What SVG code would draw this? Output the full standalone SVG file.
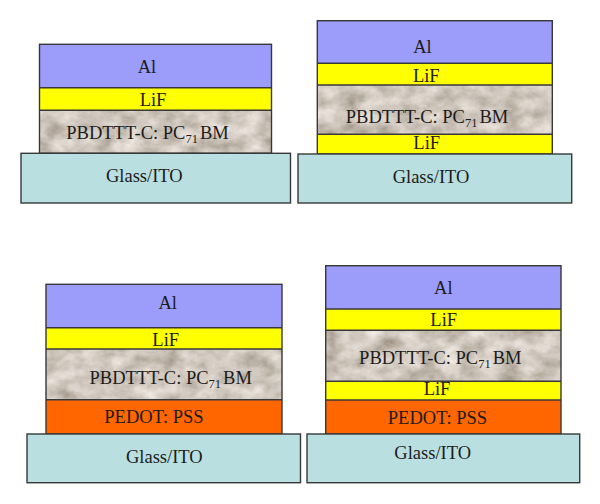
<svg xmlns="http://www.w3.org/2000/svg" width="600" height="504" viewBox="0 0 600 504">
<style>
.lay{stroke:#383838;stroke-width:1.4}
.al{fill:#9c9cfb}
.lif{fill:#ffff00}
.ped{fill:#ff6600}
.gl{fill:#b9dfe1}
.frame{fill:none;stroke:#383838;stroke-width:1.4}
text{font-family:"Liberation Serif","Times New Roman",serif;font-size:18.5px;fill:#1c1c1c;text-anchor:middle}
.sub{font-size:12.5px}
</style>
<defs>
<filter id="marble" x="0" y="0" width="1" height="1">
<feTurbulence type="fractalNoise" baseFrequency="0.05 0.065" numOctaves="4" seed="11" result="n"/>
<feColorMatrix in="n" type="matrix" values="0.65 0 0 0 0.305  0.65 0 0 0 0.25  0.65 0 0 0 0.19  0 0 0 0 1" result="c"/>
<feComposite in="c" in2="SourceGraphic" operator="in"/>
</filter>
</defs>
<rect width="600" height="504" fill="#ffffff"/>

<g id="device1">
<rect class="al" x="39.5" y="44.3" width="232" height="43.4"/>
<rect class="lif" x="39.5" y="87.7" width="232" height="22.6"/>
<rect x="39.5" y="110.3" width="232" height="43" fill="#a89b8e" filter="url(#marble)"/>
<rect class="frame" x="39.5" y="44.3" width="232" height="109"/>
<line class="lay" x1="39.5" y1="87.7" x2="271.5" y2="87.7"/>
<line class="lay" x1="39.5" y1="110.3" x2="271.5" y2="110.3"/>
<rect class="gl lay" x="21" y="153.3" width="269.5" height="49.7"/>
<text x="147" y="73.3">Al</text>
<text x="153" y="106">LiF</text>
<text x="147.5" y="139">PBDTTT-C: PC<tspan class="sub" dy="4">71</tspan><tspan dy="-4" dx="2">BM</tspan></text>
<text x="144.3" y="182.3">Glass/ITO</text>
</g>

<g id="device2">
<rect class="al" x="317.3" y="20.7" width="235" height="42.6"/>
<rect class="lif" x="317.3" y="63.3" width="235" height="21.7"/>
<rect x="317.3" y="85" width="235" height="49.3" fill="#a89b8e" filter="url(#marble)"/>
<rect class="lif" x="317.3" y="134.3" width="235" height="19.7"/>
<rect class="frame" x="317.3" y="20.7" width="235" height="133.3"/>
<line class="lay" x1="317.3" y1="63.3" x2="552.3" y2="63.3"/>
<line class="lay" x1="317.3" y1="85" x2="552.3" y2="85"/>
<line class="lay" x1="317.3" y1="134.3" x2="552.3" y2="134.3"/>
<rect class="gl lay" x="298" y="154" width="273.7" height="49"/>
<text x="422.5" y="52.7">Al</text>
<text x="426.3" y="82">LiF</text>
<text x="427" y="122.7">PBDTTT-C: PC<tspan class="sub" dy="4">71</tspan><tspan dy="-4" dx="2">BM</tspan></text>
<text x="426.7" y="149.3">LiF</text>
<text x="431" y="183.3">Glass/ITO</text>
</g>

<g id="device3">
<rect class="al" x="46" y="284.3" width="236" height="43.4"/>
<rect class="lif" x="46" y="327.7" width="236" height="21.3"/>
<rect x="46" y="349" width="236" height="50.7" fill="#a89b8e" filter="url(#marble)"/>
<rect class="ped" x="46" y="399.7" width="236" height="34.3"/>
<rect class="frame" x="46" y="284.3" width="236" height="149.7"/>
<line class="lay" x1="46" y1="327.7" x2="282" y2="327.7"/>
<line class="lay" x1="46" y1="349" x2="282" y2="349"/>
<line class="lay" x1="46" y1="399.7" x2="282" y2="399.7"/>
<rect class="gl lay" x="27" y="434" width="273.5" height="48.7"/>
<text x="167.7" y="309.3">Al</text>
<text x="165.7" y="346">LiF</text>
<text x="170.7" y="384.3">PBDTTT-C: PC<tspan class="sub" dy="4">71</tspan><tspan dy="-4" dx="2">BM</tspan></text>
<text x="154" y="422.7">PEDOT: PSS</text>
<text x="164.3" y="462.7">Glass/ITO</text>
</g>

<g id="device4">
<rect class="al" x="325.7" y="265.7" width="235.3" height="43.3"/>
<rect class="lif" x="325.7" y="309" width="235.3" height="21.3"/>
<rect x="325.7" y="330.3" width="235.3" height="51" fill="#a89b8e" filter="url(#marble)"/>
<rect class="lif" x="325.7" y="381.3" width="235.3" height="18.7"/>
<rect class="ped" x="325.7" y="400" width="235.3" height="34"/>
<rect class="frame" x="325.7" y="265.7" width="235.3" height="168.3"/>
<line class="lay" x1="325.7" y1="309" x2="561" y2="309"/>
<line class="lay" x1="325.7" y1="330.3" x2="561" y2="330.3"/>
<line class="lay" x1="325.7" y1="381.3" x2="561" y2="381.3"/>
<line class="lay" x1="325.7" y1="400" x2="561" y2="400"/>
<rect class="gl lay" x="307" y="434" width="272.7" height="48.7"/>
<text x="443.3" y="294.3">Al</text>
<text x="443.7" y="325.7">LiF</text>
<text x="440.3" y="364">PBDTTT-C: PC<tspan class="sub" dy="4">71</tspan><tspan dy="-4" dx="2">BM</tspan></text>
<text x="437" y="395">LiF</text>
<text x="437.5" y="424.3">PEDOT: PSS</text>
<text x="432.7" y="459.3">Glass/ITO</text>
</g>

<g id="connectors"/>
</svg>
